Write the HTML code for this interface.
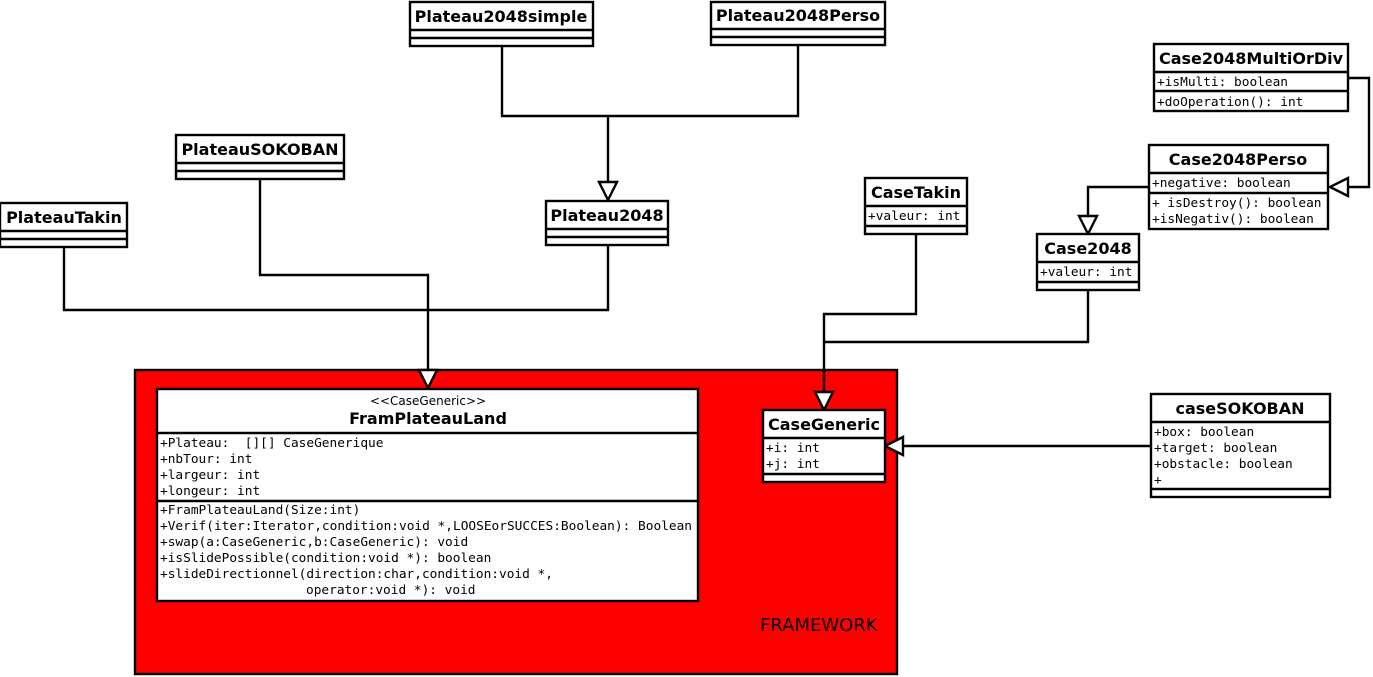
<!DOCTYPE html>
<html><head><meta charset="utf-8"><style>
body{margin:0;background:#fff}
svg{display:block}
.t{font-family:"DejaVu Sans","Liberation Sans",sans-serif;font-weight:bold;font-size:16px;text-anchor:middle}
.m{font-family:"DejaVu Sans Mono","Liberation Mono",monospace;font-size:12.8px}
rect{fill:#fff;stroke:#000;stroke-width:2.4}
line,polyline{stroke:#000;stroke-width:2.4;fill:none}
.a{fill:#fff;stroke:#000;stroke-width:2.4}
</style></head><body>
<svg width="1373" height="677" viewBox="0 0 1373 677" xmlns="http://www.w3.org/2000/svg">
<rect x="135" y="370" width="762" height="304" style="fill:#ff0000"/>
<text x="760" y="631" style="font-family:'DejaVu Sans',sans-serif;font-size:18px">FRAMEWORK</text>

<!-- connectors -->
<polyline points="502,46 502,116 798,116 798,45"/>
<line x1="608" y1="116" x2="608" y2="182"/>
<polygon class="a" points="599,182 617,182 608,200"/>
<polyline points="260,179 260,275 428,275 428,370"/>
<polygon class="a" points="419,370 437,370 428,388"/>
<polyline points="64,247 64,310 608,310 608,245"/>
<polyline points="916,234 916,314 824,314 824,392"/>
<polyline points="1088,290 1088,342 824,342"/>
<polygon class="a" points="815,392 833,392 824,410"/>
<polyline points="1149,187 1088,187 1088,216"/>
<polygon class="a" points="1079,216 1097,216 1088,234"/>
<polyline points="1348,78 1369,78 1369,187 1348,187"/>
<polygon class="a" points="1348,178 1348,196 1330,187"/>
<line x1="1151" y1="446" x2="903" y2="446"/>
<polygon class="a" points="903,437 903,455 885,446"/>

<!-- Plateau2048simple -->
<rect x="410" y="2" width="183" height="44"/><line x1="410" y1="30" x2="593" y2="30"/><line x1="410" y1="38" x2="593" y2="38"/>
<text class="t" x="501" y="22">Plateau2048simple</text>
<!-- Plateau2048Perso -->
<rect x="711" y="2" width="174" height="43"/><line x1="711" y1="29" x2="885" y2="29"/><line x1="711" y1="37" x2="885" y2="37"/>
<text class="t" x="798" y="21">Plateau2048Perso</text>
<!-- PlateauSOKOBAN -->
<rect x="176" y="135" width="168" height="44"/><line x1="176" y1="163" x2="344" y2="163"/><line x1="176" y1="171" x2="344" y2="171"/>
<text class="t" x="260" y="155">PlateauSOKOBAN</text>
<!-- PlateauTakin -->
<rect x="0" y="203" width="127" height="44"/><line x1="0" y1="231" x2="127" y2="231"/><line x1="0" y1="239" x2="127" y2="239"/>
<text class="t" x="64" y="223">PlateauTakin</text>
<!-- Plateau2048 -->
<rect x="546" y="201" width="122" height="44"/><line x1="546" y1="229" x2="668" y2="229"/><line x1="546" y1="237" x2="668" y2="237"/>
<text class="t" x="607" y="221">Plateau2048</text>
<!-- CaseTakin -->
<rect x="865" y="178" width="102" height="56"/><line x1="865" y1="206" x2="967" y2="206"/><line x1="865" y1="226" x2="967" y2="226"/>
<text class="t" x="916" y="198">CaseTakin</text>
<text class="m" x="868" y="220">+valeur: int</text>
<!-- Case2048 -->
<rect x="1037" y="234" width="102" height="56"/><line x1="1037" y1="262" x2="1139" y2="262"/><line x1="1037" y1="282" x2="1139" y2="282"/>
<text class="t" x="1088" y="254">Case2048</text>
<text class="m" x="1040" y="276">+valeur: int</text>
<!-- Case2048MultiOrDiv -->
<rect x="1154" y="44" width="194" height="67"/><line x1="1154" y1="72" x2="1348" y2="72"/><line x1="1154" y1="91" x2="1348" y2="91"/>
<text class="t" x="1251" y="64">Case2048MultiOrDiv</text>
<text class="m" x="1157" y="86">+isMulti: boolean</text>
<text class="m" x="1157" y="106">+doOperation(): int</text>
<!-- Case2048Perso -->
<rect x="1149" y="145" width="179" height="84"/><line x1="1149" y1="173" x2="1328" y2="173"/><line x1="1149" y1="193" x2="1328" y2="193"/>
<text class="t" x="1238" y="165">Case2048Perso</text>
<text class="m" x="1152" y="187">+negative: boolean</text>
<text class="m" x="1152" y="207">+ isDestroy(): boolean</text>
<text class="m" x="1152" y="223">+isNegativ(): boolean</text>
<!-- caseSOKOBAN -->
<rect x="1151" y="394" width="179" height="103"/><line x1="1151" y1="422" x2="1330" y2="422"/><line x1="1151" y1="489" x2="1330" y2="489"/>
<text class="t" x="1240" y="414">caseSOKOBAN</text>
<text class="m" x="1154" y="436">+box: boolean</text>
<text class="m" x="1154" y="452">+target: boolean</text>
<text class="m" x="1154" y="468">+obstacle: boolean</text>
<text class="m" x="1154" y="484">+</text>
<!-- CaseGeneric -->
<rect x="763" y="410" width="122" height="72"/><line x1="763" y1="438" x2="885" y2="438"/><line x1="763" y1="474" x2="885" y2="474"/>
<text class="t" x="824" y="430">CaseGeneric</text>
<text class="m" x="766" y="452">+i: int</text>
<text class="m" x="766" y="468">+j: int</text>
<!-- FramPlateauLand -->
<rect x="157" y="389" width="541" height="212"/><line x1="157" y1="433" x2="698" y2="433"/><line x1="157" y1="501" x2="698" y2="501"/>
<text x="428" y="405" style="font-family:'DejaVu Sans',sans-serif;font-size:12px;text-anchor:middle">&lt;&lt;CaseGeneric&gt;&gt;</text>
<text class="t" x="428" y="424">FramPlateauLand</text>
<text class="m" x="160" y="447" xml:space="preserve">+Plateau:  [][] CaseGenerique</text>
<text class="m" x="160" y="463">+nbTour: int</text>
<text class="m" x="160" y="479">+largeur: int</text>
<text class="m" x="160" y="495">+longeur: int</text>
<text class="m" x="160" y="514">+FramPlateauLand(Size:int)</text>
<text class="m" x="160" y="530" textLength="532" lengthAdjust="spacingAndGlyphs">+Verif(iter:Iterator,condition:void *,LOOSEorSUCCES:Boolean): Boolean</text>
<text class="m" x="160" y="546">+swap(a:CaseGeneric,b:CaseGeneric): void</text>
<text class="m" x="160" y="562">+isSlidePossible(condition:void *): boolean</text>
<text class="m" x="160" y="578">+slideDirectionnel(direction:char,condition:void *,</text>
<text class="m" x="306" y="594">operator:void *): void</text>
</svg>
</body></html>
